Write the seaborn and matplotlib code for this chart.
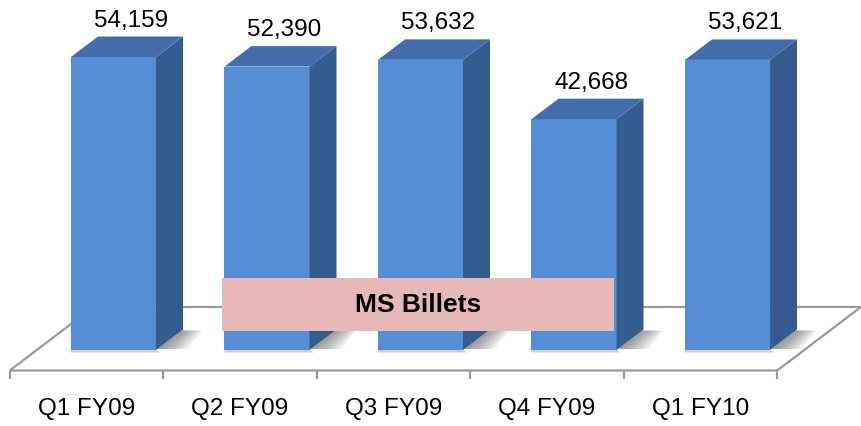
import numpy as np
import pandas as pd
import matplotlib
matplotlib.use("Agg")
import matplotlib.pyplot as plt
import seaborn as sns
from matplotlib.patches import Polygon, Rectangle

# ---- data ----
categories = ["Q1 FY09", "Q2 FY09", "Q3 FY09", "Q4 FY09", "Q1 FY10"]
values = [54159, 52390, 53632, 42668, 53621]
value_labels = ["54,159", "52,390", "53,632", "42,668", "53,621"]
box_label = "MS Billets"

# ---- style ----
FRONT = "#558ED5"
SIDE = "#355C8F"
TOP = "#426FAC"
FLOOR_EDGE = "#9A9A9A"
BOX = "#E6B8B7"

sns.set_theme(style="white")
plt.rcParams["font.family"] = ["Liberation Sans", "DejaVu Sans"]

W, H = 862, 426
fig = plt.figure(figsize=(W / 100, H / 100), dpi=100)
ax = fig.add_axes([0, 0, 1, 1])

df = pd.DataFrame({"cat": categories, "val": values})
sns.barplot(data=df, x="cat", y="val", color=FRONT, saturation=1, width=0.554,
            ax=ax, zorder=3, edgecolor="none", linewidth=0)
ax.axis("off")

# layout: category spacing / first centre in px, zero line and value scale
spacing, first_px = 153.5, 113.5
zero_px_from_bottom = 76
px_per_unit = 293 / 54159
ax.set_xlim(-first_px / spacing, (W - first_px) / spacing)
ax.set_ylim(-zero_px_from_bottom / px_per_unit, (H - zero_px_from_bottom) / px_per_unit)

D = np.array([27.0, 20.5])  # depth vector in display px


def to_disp(pt):
    return ax.transData.transform(pt)


def from_disp(p):
    return ax.transData.inverted().transform(p)


def shift(pt, k, extra=(0, 0)):
    return from_disp(to_disp(pt) + k * D + np.array(extra))


n = len(categories)
xa, xb = -0.5, n - 0.5

# floor
floor = [shift((xa, 0), -1), shift((xb, 0), -1), shift((xb, 0), 2.1), shift((xa, 0), 2.1)]
ax.add_patch(Polygon(floor, closed=True, facecolor="white", edgecolor=FLOOR_EDGE,
                     linewidth=1.6, zorder=1, joinstyle="miter"))
# ticks on front edge
for i in range(n + 1):
    p0 = shift((i - 0.5, 0), -1)
    p1 = shift((i - 0.5, 0), -1, (0, -8))
    ax.plot([p0[0], p1[0]], [p0[1], p1[1]], color=FLOOR_EDGE, lw=1.6, zorder=1,
            solid_capstyle="butt")
# category labels
for i, c in enumerate(categories):
    p = shift((i, 0), -1, (0, -39))
    ax.text(p[0], p[1], c, ha="center", va="center", fontsize=17.5, color="black")

# 3D faces
bars = [p for p in ax.patches if isinstance(p, Rectangle) and p.get_height() > 0]
for bar, lab in zip(bars, value_labels):
    x, w, h = bar.get_x(), bar.get_width(), bar.get_height()
    FL, FR, TR, TL = (x, 0), (x + w, 0), (x + w, h), (x, h)
    # soft shadow on floor, to the right of the bar and a thin line under it
    for k in range(3, 31, 3):
        sh = [shift(FR, 0.05), shift(FR, 0.95), shift(FR, 0.95, (k * 0.7, 0)),
              shift(FR, 0.05, (k, 0))]
        ax.add_patch(Polygon(sh, closed=True, facecolor="#606060", edgecolor="none",
                             alpha=0.085, zorder=2))
    ax.add_patch(Polygon([FL, FR, shift(FR, 0, (4, -2.5)), shift(FL, 0, (0, -2.5))],
                         closed=True, facecolor="#B0B0B0", edgecolor="none",
                         alpha=0.6, zorder=2))
    ax.add_patch(Polygon([FR, TR, shift(TR, 1), shift(FR, 1)], closed=True,
                         facecolor=SIDE, edgecolor="none", zorder=3))
    ax.add_patch(Polygon([TL, TR, shift(TR, 1), shift(TL, 1)], closed=True,
                         facecolor=TOP, edgecolor="none", zorder=3))
    lx = shift((x + w / 2, h), 0.65)[0]
    ly = shift((x + w / 2, h), 1, (0, 16))[1]
    ax.text(lx, ly, lab, ha="center", va="center", fontsize=17.5, color="black",
            zorder=5)

# MS Billets box (figure coordinates)
bx0, bx1, by0, by1 = 222, 614, 278, 331  # px from left/top
fig.patches.append(Rectangle((bx0 / W, 1 - by1 / H), (bx1 - bx0) / W, (by1 - by0) / H,
                             transform=fig.transFigure, facecolor=BOX, edgecolor="none",
                             zorder=10))
fig.text((bx0 + bx1) / 2 / W, 1 - (by0 + by1) / 2 / H, box_label, ha="center",
         va="center", fontsize=19, fontweight="bold", color="black", zorder=11)

fig.savefig("out.png", dpi=100)
